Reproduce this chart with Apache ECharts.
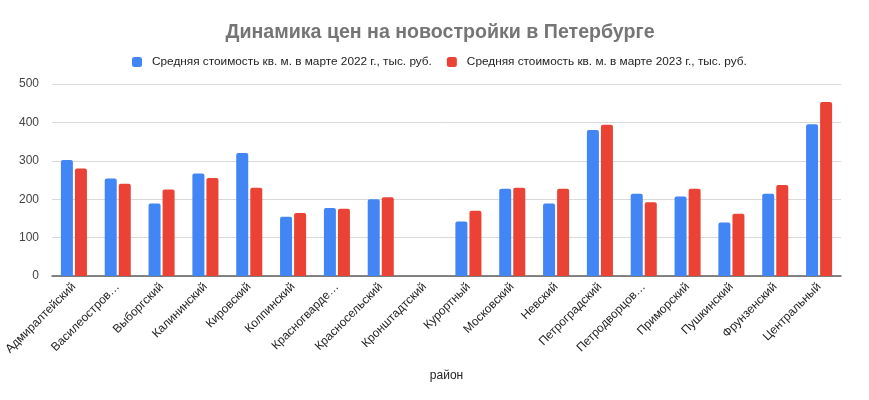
<!DOCTYPE html>
<html>
<head>
<meta charset="utf-8">
<script src="https://cdn.jsdelivr.net/npm/echarts@6/dist/echarts.min.js"></script>
<style>
html,body{margin:0;padding:0;background:#fff;}
#chart{width:869px;height:400px;}
</style>
</head>
<body>
<div id="chart"></div>
<script>
const categories = ["Адмиралтейский","Василеостров…","Выборгский","Калининский","Кировский","Колпинский","Красногварде…","Красносельский","Кронштадтский","Курортный","Московский","Невский","Петроградский","Петродворцов…","Приморский","Пушкинский","Фрунзенский","Центральный"];
const price2022 = [302, 254, 189, 267, 320, 154, 177, 200, null, 142, 227, 189, 380, 214, 207, 139, 214, 395];
const price2023 = [280, 240, 225, 255, 230, 164, 175, 205, null, 170, 230, 227, 394, 192, 227, 162, 237, 453];
const seriesNames = ["Средняя стоимость кв. м. в марте 2022 г., тыс. руб.","Средняя стоимость кв. м. в марте 2023 г., тыс. руб."];
const yTicks = [0, 100, 200, 300, 400, 500];

const FONT = "'Liberation Sans', Arial, sans-serif";
const chart = echarts.init(document.getElementById('chart'));
chart.setOption({
  animation: false,
  color: ['#4285F4', '#EA4335'],
  title: {
    text: 'Динамика цен на новостройки в Петербурге',
    left: 435,
    textAlign: 'center',
    top: 18,
    textStyle: {fontFamily: FONT, fontSize: 19.6, fontWeight: 'bold', color: '#757575'}
  },
  legend: {
    top: 51,
    left: 127,
    itemWidth: 10,
    itemHeight: 10,
    itemGap: 15,
    icon: 'roundRect',
    textStyle: {fontFamily: FONT, fontSize: 11.8, color: '#222', padding: [0, 0, 0, 5]},
    data: seriesNames
  },
  grid: {left: 52, right: 28, top: 84, bottom: 124, containLabel: false},
  xAxis: {
    type: 'category',
    data: categories,
    name: 'район',
    nameLocation: 'middle',
    nameGap: 94,
    nameTextStyle: {fontFamily: FONT, fontSize: 12, color: '#222'},
    axisLine: {lineStyle: {color: '#5f5f5f', width: 1.5}},
    axisTick: {show: false},
    axisLabel: {interval: 0, rotate: 45, margin: 9, fontFamily: FONT, fontSize: 12, color: '#222'}
  },
  yAxis: {
    type: 'value',
    min: yTicks[0],
    max: yTicks[yTicks.length - 1],
    interval: 100,
    axisLine: {show: false},
    axisTick: {show: false},
    splitLine: {lineStyle: {color: '#d9d9d9', width: 1}},
    axisLabel: {margin: 13, fontFamily: FONT, fontSize: 12, color: '#444'}
  },
  series: [
    {name: seriesNames[0], type: 'bar', data: price2022, barWidth: 12, barGap: '17%', itemStyle: {borderRadius: [2,2,0,0]}},
    {name: seriesNames[1], type: 'bar', data: price2023, barWidth: 12, barGap: '17%', itemStyle: {borderRadius: [2,2,0,0]}}
  ]
});
</script>
</body>
</html>
